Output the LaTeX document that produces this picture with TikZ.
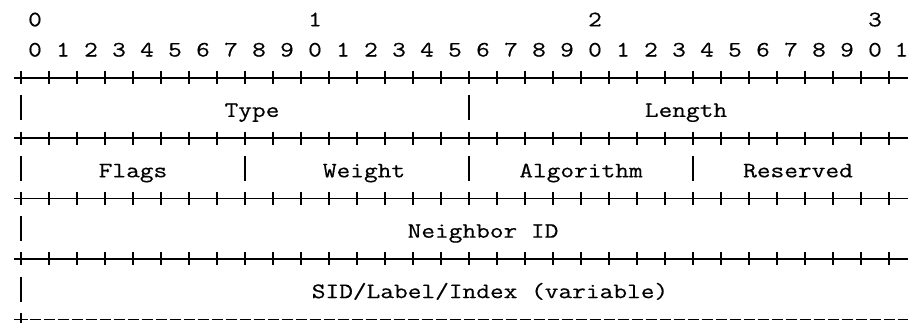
\documentclass[tikz,border=0pt]{standalone}
\usepackage{fontspec}
\newfontfamily\pktfont[FakeStretch=1.21,FakeBold=0.4]{Latin Modern Mono}
\begin{document}
\begin{tikzpicture}[x=1pt,y={(0pt,-1pt)},
  lbl/.style={font=\pktfont\fontsize{22}{26}\selectfont,anchor=base,inner sep=0pt,text=black},
  rule/.style={line width=1.6pt,black},
  bar/.style={line width=1.6pt,black}]
\useasboundingbox (0,0) rectangle (908,322);
% bit numbers
\node[lbl] (t0) at (35,26.3) {0};
\node[lbl] (t1) at (315,26.3) {1};
\node[lbl] (t2) at (595,26.3) {2};
\node[lbl] (t3) at (875,26.3) {3};
\foreach \i in {0,...,30}{
  \pgfmathtruncatemacro\d{mod(\i,10)}
  \node[lbl] (b\i) at (35+28*\i,56.5) {\d};
}
\node[lbl] (b31) at (901.5,56.5) {1};
% +-+-+ borders
\foreach \yy in {77.7,138.1,198.5,258.9}{
  \draw[rule] (14,\yy) -- (908,\yy);
  \foreach \i in {0,...,31}{
    \draw[rule] (21+28*\i,\yy-6.5) -- ++(0,13);
  }
}
% bottom +------
\draw[rule] (14,319.3) -- (28,319.3);
\draw[rule] (21,312.8) -- ++(0,13);
\draw[rule,dash pattern=on 11pt off 3pt] (29.5,319.3) -- (908,319.3);
% vertical bars
\foreach \xx/\yy in {21/107.9,469/107.9,21/168.3,245/168.3,469/168.3,693/168.3,21/228.7,21/289.1}{
  \draw[bar] (\xx,\yy-12.5) -- ++(0,25);
}
% field labels
\node[lbl] (type) at (252,116.9) {Type};
\node[lbl] (length) at (686,116.9) {Length};
\node[lbl] (flags) at (133,177.3) {Flags};
\node[lbl] (weight) at (364,177.3) {Weight};
\node[lbl] (alg) at (581,177.3) {Algorithm};
\node[lbl] (res) at (798,177.3) {Reserved};
\node[lbl] (nbr) at (483,237.7) {Neighbor ID};
\node[lbl] (sid) at (490,298.1) {SID/Label/Index (variable)};
\end{tikzpicture}
\end{document}
